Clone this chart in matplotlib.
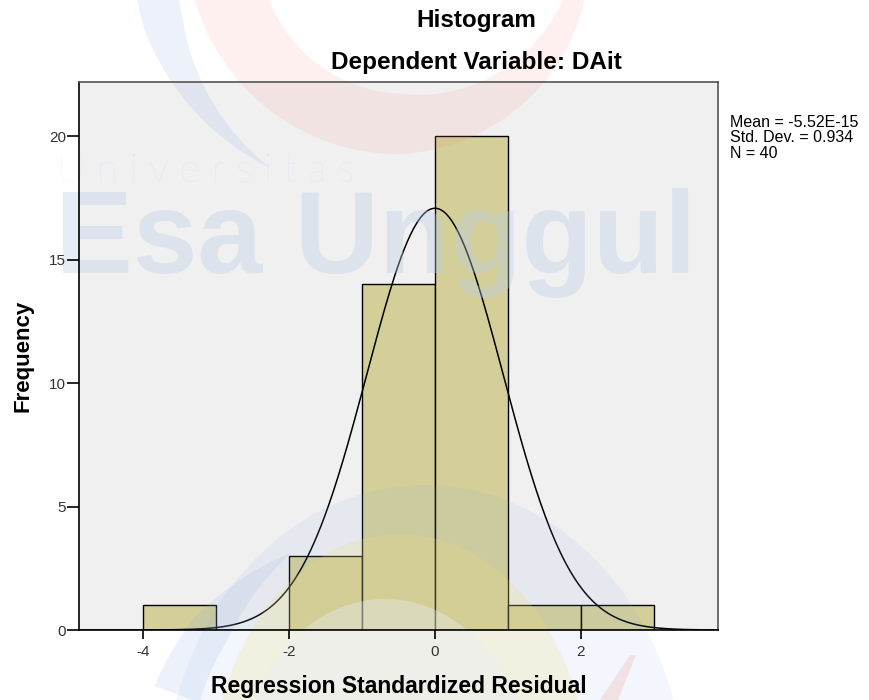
import numpy as np
import matplotlib
matplotlib.use('Agg')
import matplotlib.pyplot as plt
from matplotlib.patches import Polygon, Ellipse

plt.rcParams['font.family'] = ['Liberation Sans', 'DejaVu Sans']
plt.rcParams['axes.unicode_minus'] = False

# histogram data (bin edges and counts)
bin_left = [-4, -3, -2, -1, 0, 1, 2]
counts = [1, 0, 3, 14, 20, 1, 1]
bin_width = 1.0
mean = -5.52e-15
std = 0.934
n = 40


def band(cx, cy, r, angles, widths):
    # curved stroke of varying width, in pixel coords (y down)
    a = np.linspace(angles[0], angles[-1], 120)
    order = np.argsort(angles)
    w = np.interp(a, np.array(angles)[order], np.array(widths)[order])
    t = np.radians(a)
    outer = np.c_[cx + (r + w / 2) * np.cos(t), cy + (r + w / 2) * np.sin(t)]
    inner = np.c_[cx + (r - w / 2) * np.cos(t), cy + (r - w / 2) * np.sin(t)]
    return np.vstack([outer, inner[::-1]])


fig = plt.figure(figsize=(8.69, 7.0), dpi=100)
fig.patch.set_facecolor('white')

# helper axes only used for a pixel coordinate system (y down)
px = fig.add_axes([0, 0, 1, 1], zorder=-1)
px.set_xlim(0, 869)
px.set_ylim(700, 0)
px.axis('off')

ax = fig.add_axes([79 / 869, 70 / 700, 639 / 869, 548 / 700])
ax.set_facecolor('#f0f0f0')

ax.bar(bin_left, counts, width=bin_width, align='edge', color='#d4cf98',
       edgecolor='black', linewidth=1.0, zorder=2)

x = np.linspace(-4.88, 3.88, 400)
y = n * bin_width / (std * np.sqrt(2 * np.pi)) * np.exp(-0.5 * ((x - mean) / std) ** 2)
ax.plot(x, y, color='black', linewidth=1.1, zorder=3)

ax.set_xlim(-4.88, 3.88)
ax.set_ylim(0, 22.2)
ax.set_xticks([-4, -2, 0, 2])
ax.set_yticks([0, 5, 10, 15, 20])
ax.tick_params(direction='out', width=1.2, labelsize=11, colors='black',
               labelcolor='#333333')
ax.tick_params(axis='x', length=6.5, pad=4)
ax.tick_params(axis='y', length=8.5, pad=1)
for s in ax.spines.values():
    s.set_color('#555555')
    s.set_linewidth(1.2)
    s.set_zorder(6)
ax.spines['left'].set_color('black')
ax.spines['bottom'].set_color('black')
ax.xaxis.set_zorder(6)
ax.yaxis.set_zorder(6)

ax.set_xlabel('Regression Standardized Residual', fontsize=16.5, fontweight='bold', labelpad=12)
ax.set_ylabel('Frequency', fontsize=16, fontweight='bold', labelpad=11)

fig.text(476 / 869, 1 - 20 / 700, 'Histogram', ha='center', va='center',
         fontsize=17.5, fontweight='bold')
fig.text(476 / 869, 1 - 63 / 700, 'Dependent Variable: DAit', ha='center', va='center',
         fontsize=17.5, fontweight='bold')

fig.text(730 / 869, 1 - 115 / 700,
         'Mean = -5.52E-15\nStd. Dev. = 0.934\nN = 40',
         ha='left', va='top', fontsize=11.5, linespacing=1.03)

# faint logo watermark: over the bars, under the axis text
wm_style = dict(transform=px.transData, clip_on=False, ec='none', zorder=4)
ax.add_patch(Polygon(band(403, -56, 180, [170, 90, 10], [72, 60, 16]),
                     fc='#f09080', alpha=0.13, **wm_style))
ax.add_patch(Polygon(band(400, -40, 245, [185, 165, 122], [44, 40, 0]),
                     fc='#8aa8e4', alpha=0.16, **wm_style))
ax.add_patch(Ellipse((425, 790), 520, 610, fc='#8aa8e4', alpha=0.10, **wm_style))
ax.add_patch(Ellipse((400, 790), 380, 512, fc='#f0dc70', alpha=0.20, **wm_style))
ax.add_patch(Ellipse((385, 790), 300, 382, fc='#e8eefa', alpha=0.35, **wm_style))
ax.add_patch(Polygon(band(440, 790, 280, [200, 215, 238], [48, 40, 0]),
                     fc='#8aa8e4', alpha=0.15, **wm_style))
ax.add_patch(Polygon([(600, 700), (618, 700), (636, 655), (630, 655)],
                     fc='#f09080', alpha=0.2, **wm_style))

ax.text(57, 171, 'U n i v e r s i t a s', fontsize=28.5, family='Lato',
        fontweight='light', color='#b8cdea', alpha=0.3, va='center', ha='left',
        transform=px.transData, clip_on=False, zorder=4)
ax.text(55, 243, 'Esa Unggul', fontsize=84, fontweight='bold',
        color='#b8cdea', alpha=0.35, va='center', ha='left',
        transform=px.transData, clip_on=False, zorder=4)

fig.savefig('out.png', dpi=100)
